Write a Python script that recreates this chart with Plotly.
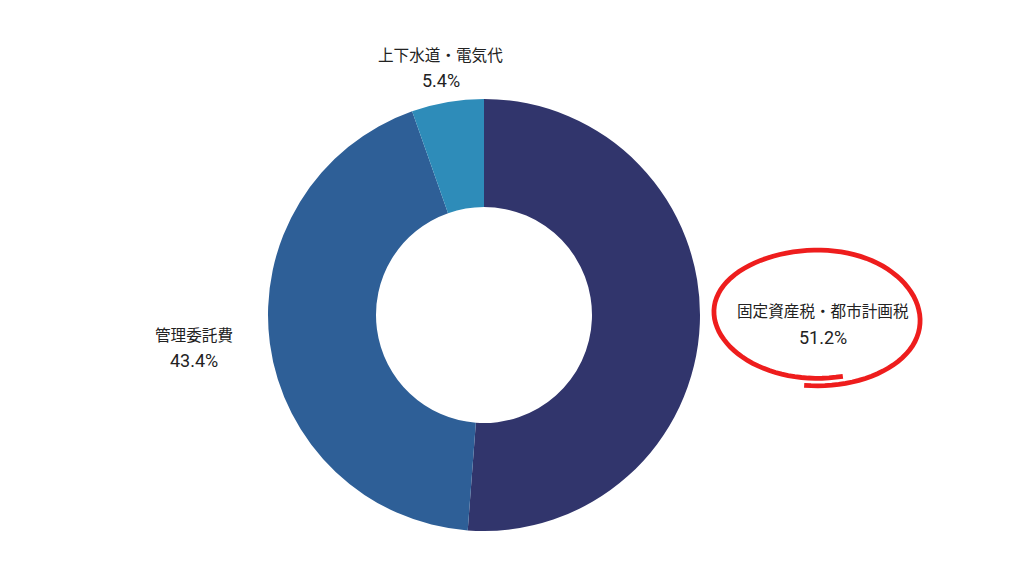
import numpy as np
import plotly.graph_objects as go

labels = ["固定資産税・都市計画税", "管理委託費", "上下水道・電気代"]
values = [51.2, 43.4, 5.4]
colors = ["#31356C", "#2E5F97", "#2E8CB9"]

W, H = 1024, 576
OFF = 8                      # page body margin
cx, cy, R = 484 - OFF, 315 - OFF, 216   # pie centre and radius in pixels

fig = go.Figure(go.Pie(
    labels=labels, values=values, hole=0.5, sort=False,
    direction="clockwise", rotation=0,
    marker=dict(colors=colors, line=dict(width=0)),
    textinfo="none", hoverinfo="label+percent",
    domain=dict(x=[(cx - R) / W, (cx + R) / W],
                y=[1 - (cy + R) / H, 1 - (cy - R) / H]),
))

# labels outside each slice, placed by slice mid-angle
name_fs, pct_fs = 15.6, 18
name_font = dict(family="Roboto, Noto Sans CJK JP", size=name_fs, color="#222222")
pct_font = dict(family="Roboto, Noto Sans CJK JP", size=pct_fs, color="#222222")
total = sum(values)
cum = 0
for lab, v in zip(labels, values):
    mid = (cum + v / 2) / total * 2 * np.pi
    cum += v
    s, c = np.sin(mid), np.cos(mid)
    w = len(lab) * name_fs          # full-width glyphs
    if abs(s) > 0.7:
        r = R + 37
        px, py = cx + r * s, cy - r * c
        bx = px + np.sign(s) * w / 2
        y_name, y_pct = py - 12.5, py + 12.5
    else:
        r = R + 12
        bx, py = cx + r * s - 5, cy - r * c
        y_name, y_pct = py - 34, py - 10
    fig.add_annotation(x=bx / W, y=1 - y_name / H, xref="paper", yref="paper",
                       text=lab, showarrow=False, xanchor="center", yanchor="middle",
                       font=name_font)
    fig.add_annotation(x=bx / W, y=1 - y_pct / H, xref="paper", yref="paper",
                       text=f"{v:.1f}%", showarrow=False, xanchor="center", yanchor="middle",
                       font=pct_font)

# hand drawn red circle around the largest item
ecx, ecy = 817 - OFF, 312 - OFF
t = np.linspace(0.42 * np.pi, 0.42 * np.pi + 2.12 * np.pi, 100)
ex = ecx + (103 + 2 * np.sin(2 * t)) * np.cos(t)
ey = ecy + (66 + 1.5 * np.cos(t)) * np.sin(t) + 1.2 * (t - t[0])
pts = " L ".join(f"{x / W:.4f},{1 - y / H:.4f}" for x, y in zip(ex, ey))
fig.add_shape(type="path", path="M " + pts, xref="paper", yref="paper",
              line=dict(color="#EE1D1D", width=4.8))

fig.update_layout(
    width=W, height=H, showlegend=False,
    margin=dict(l=0, r=0, t=0, b=0),
    paper_bgcolor="white", plot_bgcolor="white",
)
fig.write_html("out.html")
